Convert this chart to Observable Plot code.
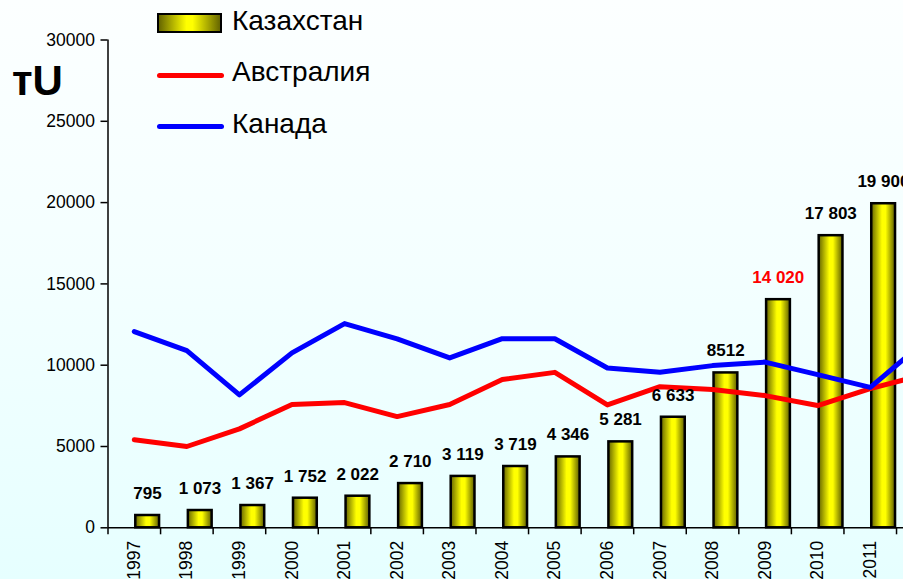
<!DOCTYPE html>
<html><head><meta charset="utf-8">
<script src="https://cdn.jsdelivr.net/npm/d3@7"></script>
<script src="https://cdn.jsdelivr.net/npm/@observablehq/plot@0.6"></script>
<style>
html,body{margin:0;padding:0;width:903px;height:579px;overflow:hidden;}
#wrap{position:relative;width:903px;height:579px;overflow:hidden;
  background:linear-gradient(to bottom,#fcffff 0%,#f4ffff 45%,#e6ffff 100%);
  font-family:"Liberation Sans",Arial,sans-serif;}
#chart{position:absolute;left:0;top:0;width:960px;}
#chart svg{max-width:none !important;}
.lg{position:absolute;font-size:28px;line-height:28px;color:#000;white-space:nowrap;}
.sw{position:absolute;}
#unit{position:absolute;left:12px;top:59.5px;font-size:42px;line-height:42px;font-weight:bold;}
</style></head><body>
<div id="wrap">
  <div id="chart"></div>
  <div id="unit">тU</div>
  <div class="sw" style="left:157px;top:13px;width:61px;height:16px;border:2px solid #000;background:linear-gradient(to right,#666600,#ffff00 45%,#ffff00 55%,#666600);"></div>
  <div class="lg" style="left:232px;top:7.3px;">Казахстан</div>
  <div class="sw" style="left:157px;top:72.5px;width:67px;height:5px;border-radius:3px;background:#ff0000;"></div>
  <div class="lg" style="left:232px;top:58px;">Австралия</div>
  <div class="sw" style="left:157px;top:123.5px;width:67px;height:5px;border-radius:3px;background:#0000ff;"></div>
  <div class="lg" style="left:232px;top:109.6px;">Канада</div>
</div>
<script>
const years = [1997,1998,1999,2000,2001,2002,2003,2004,2005,2006,2007,2008,2009,2010,2011];
const kazakhstan = [756,1063,1370,1820,1943,2720,3160,3770,4360,5285,6800,9525,14030,17965,19930];
const kazLabels = ["795","1 073","1 367","1 752","2 022","2 710","3 119","3 719","4 346","5 281","6 633","8512","14 020","17 803","19 900"];
const highlightYear = 2009;
const lineYears = [1997,1998,1999,2000,2001,2002,2003,2004,2005,2006,2007,2008,2009,2010,2011,2012];
const australia = [5410,5000,6085,7580,7700,6840,7580,9120,9560,7560,8680,8500,8130,7520,8560,9390];
const canada = [12070,10900,8175,10760,12560,11620,10450,11630,11630,9830,9560,9975,10190,9420,8640,11370];
const yTicks = [0,5000,10000,15000,20000,25000,30000];

const kaz = years.map((year,i)=>({year, value: kazakhstan[i], label: kazLabels[i]}));
const aus = lineYears.map((year,i)=>({year, value: australia[i]}));
const can = lineYears.map((year,i)=>({year, value: canada[i]}));
const boundaries = [...lineYears.map(y=>y-0.5), lineYears[lineYears.length-1]+0.5];

const W = 960, H = 579;
const chart = Plot.plot({
  width: W, height: H,
  marginLeft: 107.5, marginRight: 11.4, marginTop: 39.5, marginBottom: 51.7,
  style: {background: "transparent", fontFamily: "'Liberation Sans', Arial, sans-serif", color: "#000", overflow: "visible", maxWidth: "none"},
  x: {type: "linear", domain: [boundaries[0], boundaries[boundaries.length-1]], axis: null},
  y: {domain: [0, 30000], axis: null},
  marks: [
    Plot.rectY(kaz, {x1: "year", x2: d => d.year + 0.5, y1: 0, y2: "value",
      fill: "url(#kazGrad)", stroke: "#000", strokeWidth: 2.5, insetLeft: 1.5, insetRight: 1}),
    Plot.ruleY([0], {stroke: "#000", strokeWidth: 1.5}),
    Plot.ruleX([boundaries[0]], {y1: 0, y2: 30000, stroke: "#000", strokeWidth: 1.5}),
    Plot.line(aus, {x: "year", y: "value", stroke: "#ff0000", strokeWidth: 5, strokeLinecap: "round", strokeLinejoin: "round"}),
    Plot.line(can, {x: "year", y: "value", stroke: "#0000ff", strokeWidth: 5, strokeLinecap: "round", strokeLinejoin: "round"}),
    Plot.text(kaz, {x: d => d.year + 0.25, y: "value", text: "label", dy: -22,
      fontWeight: "bold", fontSize: 17, fill: d => d.year === highlightYear ? "#ff0000" : "#000"}),
    Plot.axisY({ticks: yTicks, tickFormat: d3.format("d"), tickSize: 7, tickPadding: 6, fontSize: 17.5, label: null, stroke: "#000", strokeWidth: 1.5}),
    Plot.axisX({ticks: boundaries, tickFormat: () => "", tickSize: 7, label: null, stroke: "#000", strokeWidth: 1.5}),
    Plot.axisX({ticks: years, tickFormat: d3.format("d"), tickSize: 0, tickRotate: -90, tickPadding: 13, fontSize: 17.5, label: null})
  ]
});
const ns = "http://www.w3.org/2000/svg";
const defs = document.createElementNS(ns, "defs");
defs.innerHTML = `<linearGradient id="kazGrad" x1="0" x2="1" y1="0" y2="0">
  <stop offset="0" stop-color="#666600"/>
  <stop offset="0.45" stop-color="#ffff00"/>
  <stop offset="0.6" stop-color="#ffff00"/>
  <stop offset="1" stop-color="#5e5e00"/>
</linearGradient>`;
chart.insertBefore(defs, chart.firstChild);
document.getElementById("chart").appendChild(chart);
</script>
</body></html>
